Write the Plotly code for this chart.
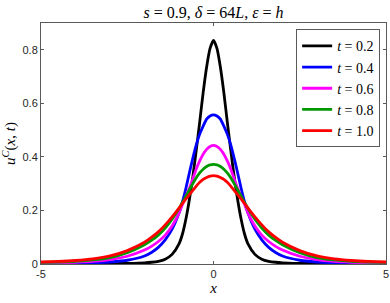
import plotly.graph_objects as go

# half-profile grid (x >= 0); curves are symmetric about x = 0
x_half = [0, 0.1, 0.2, 0.3, 0.4, 0.5, 0.6, 0.7, 0.8, 0.9, 1.0, 1.2, 1.4, 1.6, 1.8,
          2.0, 2.5, 3.0, 3.5, 4.0, 4.5, 5.0]

u_t02 = [0.835, 0.805, 0.735, 0.64, 0.53, 0.425, 0.325, 0.24, 0.168, 0.112, 0.075,
         0.036, 0.018, 0.010, 0.0065, 0.0045, 0.0025, 0.0015, 0.001, 0.0008, 0.0006, 0.0005]
u_t04 = [0.557, 0.553, 0.541, 0.515, 0.485, 0.445, 0.395, 0.34, 0.283, 0.232, 0.19,
         0.13, 0.09, 0.062, 0.043, 0.03, 0.014, 0.0075, 0.0045, 0.003, 0.002, 0.0015]
u_t06 = [0.443, 0.439, 0.428, 0.41, 0.385, 0.355, 0.318, 0.283, 0.252, 0.222, 0.19,
         0.142, 0.108, 0.084, 0.066, 0.052, 0.029, 0.016, 0.0095, 0.0065, 0.0045, 0.0035]
u_t08 = [0.372, 0.37, 0.364, 0.354, 0.34, 0.322, 0.3, 0.277, 0.253, 0.23, 0.207,
         0.167, 0.134, 0.108, 0.088, 0.072, 0.042, 0.024, 0.015, 0.01, 0.0075, 0.006]
u_t10 = [0.330, 0.328, 0.323, 0.316, 0.305, 0.291, 0.275, 0.259, 0.243, 0.226, 0.209,
         0.176, 0.146, 0.12, 0.099, 0.081, 0.05, 0.03, 0.019, 0.013, 0.0095, 0.0075]

series_names = ["<i>t</i> = 0.2", "<i>t</i> = 0.4", "<i>t</i> = 0.6", "<i>t</i> = 0.8", "<i>t</i> = 1.0"]
series_vals = [u_t02, u_t04, u_t06, u_t08, u_t10]
colors = ["#000000", "#0000ff", "#ff00ff", "#009900", "#ff0000"]

x_ticks = [-5, 0, 5]
x_tick_text = ["-5", "0", "5"]
y_ticks = [0, 0.2, 0.4, 0.6, 0.8]
y_tick_text = ["0", "0.2", "0.4", "0.6", "0.8"]


def full(xs, ys):
    xf = [-v for v in reversed(xs[1:])] + list(xs)
    yf = list(reversed(ys[1:])) + list(ys)
    return xf, yf


fig = go.Figure()
for name, vals, c in zip(series_names, series_vals, colors):
    xf, yf = full(x_half, vals)
    fig.add_trace(go.Scatter(x=xf, y=yf, mode="lines", name=name,
                             line=dict(color=c, width=2.8, shape="spline", smoothing=0.6)))

axis_common = dict(showline=True, linecolor="#5a5a5a", linewidth=1, mirror="ticks",
                   ticks="inside", ticklen=3, tickcolor="#5a5a5a", showgrid=False,
                   zeroline=False, automargin=False,
                   tickfont=dict(family="Liberation Sans, Arial", size=11, color="#262626"))

fig.update_layout(
    width=390, height=303,
    margin=dict(l=41, r=4, t=23, b=39, autoexpand=False),
    paper_bgcolor="white", plot_bgcolor="white",
    title=dict(text="<i>s</i> = 0.9, <i>δ</i> = 64<i>L</i>, <i>ε</i> = <i>h</i>",
               x=(41 + 386) / 2 / 390, xanchor="center", y=1 - 12 / 303, yanchor="middle",
               font=dict(family="Liberation Serif, Times New Roman", size=16, color="#000")),
    xaxis=dict(range=[-5, 5], tickvals=x_ticks, ticktext=x_tick_text,
               title=dict(text="<i>x</i>", standoff=2,
                          font=dict(family="Liberation Serif", size=15, color="#000")),
               **axis_common),
    yaxis=dict(range=[0, 0.9], tickvals=y_ticks, ticktext=y_tick_text,
               title=dict(text="<i>u</i><sup><i>C</i></sup>(<i>x</i>, <i>t</i>)", standoff=6,
                          font=dict(family="Liberation Serif", size=15, color="#000")),
               **axis_common),
    legend=dict(x=0.983, y=0.974, xanchor="right", yanchor="top",
                bgcolor="white", bordercolor="#5a5a5a", borderwidth=1,
                font=dict(family="Liberation Serif", size=14, color="#000"),
                tracegroupgap=0, itemwidth=30),
    showlegend=True,
)

fig.write_html("out.html", config={"displayModeBar": False},
               post_script="document.body.style.margin='0';document.body.style.padding='0';")
